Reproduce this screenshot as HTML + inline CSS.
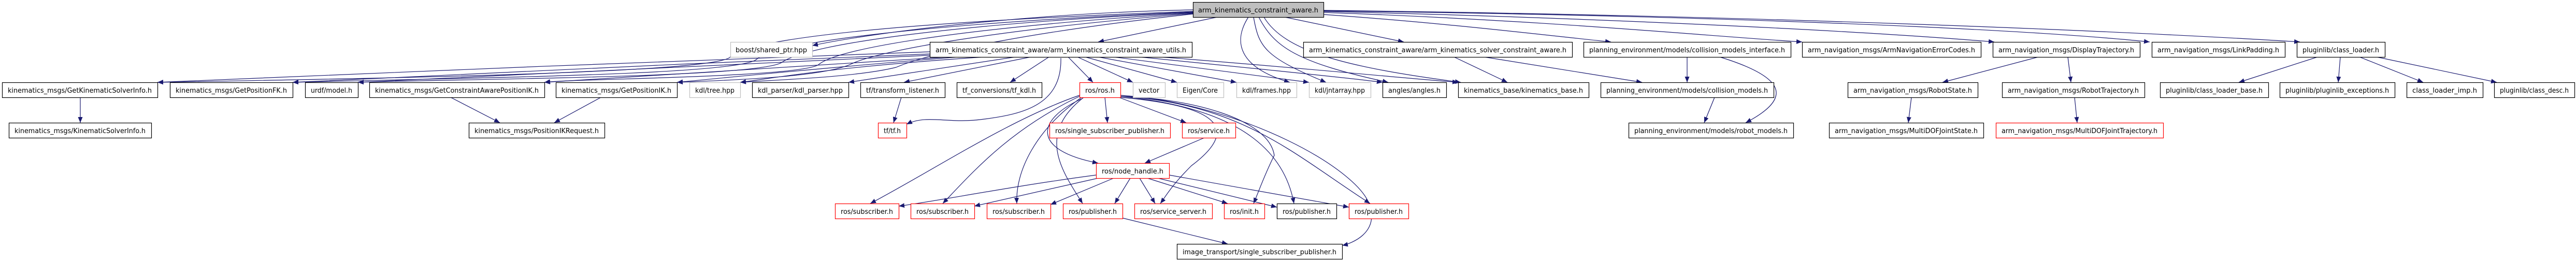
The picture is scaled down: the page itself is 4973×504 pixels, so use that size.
<!DOCTYPE html>
<html><head><meta charset="utf-8"><style>
html,body{margin:0;padding:0;background:#fff;}
svg{display:block}
text{font-family:"DejaVu Sans","Liberation Sans",sans-serif;font-size:13px;fill:#000}
.e{fill:none;stroke:#191970;stroke-width:1.2}
.b{fill:#fff;stroke:#000;stroke-width:1.2}
.g{fill:#fff;stroke:#bfbfbf;stroke-width:1.2}
.r{fill:#fff;stroke:#ff0000;stroke-width:1.2}
</style></head><body>
<svg width="4973" height="504" viewBox="0 0 4973 504" xmlns="http://www.w3.org/2000/svg">
<defs><marker id="a" markerUnits="userSpaceOnUse" markerWidth="12" markerHeight="9" refX="11" refY="4.5" orient="auto"><path d="M0,0 L11,4.5 L0,9 z" fill="#191970"/></marker></defs>
<g marker-end="url(#a)">
<!-- from top node -->
<path class="e" d="M2303,19 C2000,25 1700,60 1568,88"/>
<path class="e" d="M2350,33 L2120,81"/>
<path class="e" d="M2480,33 L2710,81"/>
<path class="e" d="M2555,28 C2800,45 3000,70 3110,81"/>
<path class="e" d="M2555,24 C3000,40 3300,70 3479,81"/>
<path class="e" d="M2555,22 C3100,35 3600,60 3850,81"/>
<path class="e" d="M2555,21 C3300,30 3900,55 4150,81"/>
<path class="e" d="M2555,20 C3400,30 4100,60 4440,81"/>
<path class="e" d="M2303,22 C1800,40 1450,70 1410,110 C1380,140 800,150 304,159"/>
<path class="e" d="M2303,23 C1800,45 1500,80 1460,115 C1420,145 900,150 565,159"/>
<path class="e" d="M2303,24 C1850,45 1560,85 1510,120 C1470,150 900,152 691,159"/>
<path class="e" d="M2303,25 C1900,50 1620,90 1580,125 C1540,150 1100,152 1051,159"/>
<path class="e" d="M2303,26 C1950,55 1700,95 1640,125 C1580,150 1400,155 1307,159"/>
<path class="e" d="M2303,27 C2000,60 1800,100 1730,130 C1650,150 1480,155 1429,159"/>
<path class="e" d="M2410,33 C2380,80 2390,130 2490,159"/>
<path class="e" d="M2420,33 C2430,90 2440,110 2560,159"/>
<path class="e" d="M2430,33 C2460,90 2500,120 2680,159"/>
<path class="e" d="M2440,33 C2480,100 2600,130 2820,159"/>
<!-- from utils -->
<path class="e" d="M1795,100 C1400,115 700,140 304,159"/>
<path class="e" d="M1800,104 C1400,120 800,145 565,159"/>
<path class="e" d="M1810,106 C1400,125 900,150 691,159"/>
<path class="e" d="M1830,110 C1500,130 1200,150 1051,159"/>
<path class="e" d="M1850,110 C1600,130 1400,150 1307,159"/>
<path class="e" d="M1900,110 C1600,130 1500,150 1429,159"/>
<path class="e" d="M1960,110 L1638,159"/>
<path class="e" d="M1990,110 L1745,159"/>
<path class="e" d="M2025,110 L1950,159"/>
<path class="e" d="M2062,110 L2110,159"/>
<path class="e" d="M2080,110 L2187,159"/>
<path class="e" d="M2095,110 L2272,159"/>
<path class="e" d="M2120,110 L2387,159"/>
<path class="e" d="M2150,110 L2527,159"/>
<path class="e" d="M2200,110 C2400,130 2600,150 2669,159"/>
<path class="e" d="M2240,110 C2500,130 2700,150 2815,159"/>
<path class="e" d="M2048,112 C2050,200 1980,220 1900,230 C1830,240 1790,220 1750,240"/>
<path class="e" d="M1740,188 L1725,237"/>
<!-- from ros.h -->
<path class="e" d="M2133,188 L2138,237"/>
<path class="e" d="M2160,188 L2290,237"/>
<path class="e" d="M2090,190 C2000,230 1990,290 2120,315"/>
<path class="e" d="M2325,266 L2210,315"/>
<path class="e" d="M2084,184 C1950,230 1800,330 1680,393"/>
<path class="e" d="M2084,186 C1950,250 1880,330 1820,393"/>
<path class="e" d="M2088,188 C2000,250 1960,330 1963,393"/>
<path class="e" d="M2092,188 C2000,260 2050,330 2090,393"/>
<path class="e" d="M2163,188 C2300,200 2420,230 2300,320 C2260,360 2250,380 2240,393"/>
<path class="e" d="M2163,186 C2300,190 2450,230 2460,300 C2440,340 2430,370 2420,393"/>
<path class="e" d="M2163,186 C2300,200 2470,240 2498,393"/>
<path class="e" d="M2163,186 C2400,200 2500,300 2645,393"/>
<path class="e" d="M2163,184 C2400,200 2630,330 2645,400 C2660,450 2610,470 2591,474"/>
<!-- node_handle -->
<path class="e" d="M2116,338 C1950,360 1800,390 1735,398"/>
<path class="e" d="M2120,344 L1881,398"/>
<path class="e" d="M2150,344 L2028,395"/>
<path class="e" d="M2182,344 L2152,393"/>
<path class="e" d="M2200,344 L2230,393"/>
<path class="e" d="M2215,344 L2370,393"/>
<path class="e" d="M2235,344 L2465,400"/>
<path class="e" d="M2257,338 L2604,400"/>
<path class="e" d="M2167,421 L2370,471"/>
<!-- others -->
<path class="e" d="M155,188 L155,237"/>
<path class="e" d="M870,188 L965,237"/>
<path class="e" d="M1160,188 L1070,237"/>
<path class="e" d="M2807,110 L2910,159"/>
<path class="e" d="M2865,110 L3170,159"/>
<path class="e" d="M3257,110 L3257,159"/>
<path class="e" d="M3310,188 L3290,237"/>
<path class="e" d="M3320,110 C3450,150 3460,190 3370,237"/>
<path class="e" d="M3935,110 L3750,159"/>
<path class="e" d="M3992,110 L3998,159"/>
<path class="e" d="M3690,188 L3684,237"/>
<path class="e" d="M4005,188 L4010,237"/>
<path class="e" d="M4474,110 L4322,159"/>
<path class="e" d="M4518,110 L4514,159"/>
<path class="e" d="M4555,110 L4678,159"/>
<path class="e" d="M4588,110 L4820,159"/>
</g>
<!-- nodes -->
<rect x="2303.5" y="4.5" width="252" height="29" fill="#bfbfbf" stroke="#000" stroke-width="1.2"/><text x="2313" y="24" textLength="232" lengthAdjust="spacingAndGlyphs">arm_kinematics_constraint_aware.h</text>

<rect class="g" x="1410.5" y="81.5" width="158" height="29"/><text x="1420" y="101" textLength="138" lengthAdjust="spacingAndGlyphs">boost/shared_ptr.hpp</text>
<rect class="b" x="1795.5" y="81.5" width="506" height="29"/><text x="1806" y="101" textLength="484" lengthAdjust="spacingAndGlyphs">arm_kinematics_constraint_aware/arm_kinematics_constraint_aware_utils.h</text>
<rect class="b" x="2516.5" y="81.5" width="519" height="29"/><text x="2527" y="101" textLength="497" lengthAdjust="spacingAndGlyphs">arm_kinematics_constraint_aware/arm_kinematics_solver_constraint_aware.h</text>
<rect class="b" x="3057.5" y="81.5" width="400" height="29"/><text x="3068" y="101" textLength="378" lengthAdjust="spacingAndGlyphs">planning_environment/models/collision_models_interface.h</text>
<rect class="b" x="3479.5" y="81.5" width="345" height="29"/><text x="3490" y="101" textLength="323" lengthAdjust="spacingAndGlyphs">arm_navigation_msgs/ArmNavigationErrorCodes.h</text>
<rect class="b" x="3847.5" y="81.5" width="284" height="29"/><text x="3858" y="101" textLength="262" lengthAdjust="spacingAndGlyphs">arm_navigation_msgs/DisplayTrajectory.h</text>
<rect class="b" x="4154.5" y="81.5" width="257" height="29"/><text x="4165" y="101" textLength="235" lengthAdjust="spacingAndGlyphs">arm_navigation_msgs/LinkPadding.h</text>
<rect class="b" x="4434.5" y="81.5" width="170" height="29"/><text x="4445" y="101" textLength="148" lengthAdjust="spacingAndGlyphs">pluginlib/class_loader.h</text>

<rect class="b" x="4.5" y="159.5" width="300" height="29"/><text x="15" y="179" textLength="278" lengthAdjust="spacingAndGlyphs">kinematics_msgs/GetKinematicSolverInfo.h</text>
<rect class="b" x="328.5" y="159.5" width="237" height="29"/><text x="339" y="179" textLength="215" lengthAdjust="spacingAndGlyphs">kinematics_msgs/GetPositionFK.h</text>
<rect class="b" x="589.5" y="159.5" width="102" height="29"/><text x="600" y="179" textLength="80" lengthAdjust="spacingAndGlyphs">urdf/model.h</text>
<rect class="b" x="713.5" y="159.5" width="338" height="29"/><text x="724" y="179" textLength="316" lengthAdjust="spacingAndGlyphs">kinematics_msgs/GetConstraintAwarePositionIK.h</text>
<rect class="b" x="1073.5" y="159.5" width="234" height="29"/><text x="1084" y="179" textLength="212" lengthAdjust="spacingAndGlyphs">kinematics_msgs/GetPositionIK.h</text>
<rect class="g" x="1331.5" y="159.5" width="98" height="29"/><text x="1342" y="179" textLength="76" lengthAdjust="spacingAndGlyphs">kdl/tree.hpp</text>
<rect class="b" x="1452.5" y="159.5" width="186" height="29"/><text x="1463" y="179" textLength="164" lengthAdjust="spacingAndGlyphs">kdl_parser/kdl_parser.hpp</text>
<rect class="b" x="1661.5" y="159.5" width="163" height="29"/><text x="1672" y="179" textLength="141" lengthAdjust="spacingAndGlyphs">tf/transform_listener.h</text>
<rect class="b" x="1847.5" y="159.5" width="164" height="29"/><text x="1858" y="179" textLength="142" lengthAdjust="spacingAndGlyphs">tf_conversions/tf_kdl.h</text>
<rect class="r" x="2084.5" y="159.5" width="79" height="29"/><text x="2095" y="179" textLength="57" lengthAdjust="spacingAndGlyphs">ros/ros.h</text>
<rect class="g" x="2187.5" y="159.5" width="62" height="29"/><text x="2198" y="179" textLength="40" lengthAdjust="spacingAndGlyphs">vector</text>
<rect class="g" x="2272.5" y="159.5" width="90" height="29"/><text x="2283" y="179" textLength="68" lengthAdjust="spacingAndGlyphs">Eigen/Core</text>
<rect class="g" x="2387.5" y="159.5" width="116" height="29"/><text x="2398" y="179" textLength="94" lengthAdjust="spacingAndGlyphs">kdl/frames.hpp</text>
<rect class="g" x="2527.5" y="159.5" width="119" height="29"/><text x="2538" y="179" textLength="97" lengthAdjust="spacingAndGlyphs">kdl/jntarray.hpp</text>
<rect class="b" x="2669.5" y="159.5" width="123" height="29"/><text x="2680" y="179" textLength="101" lengthAdjust="spacingAndGlyphs">angles/angles.h</text>
<rect class="b" x="2815.5" y="159.5" width="252" height="29"/><text x="2826" y="179" textLength="230" lengthAdjust="spacingAndGlyphs">kinematics_base/kinematics_base.h</text>
<rect class="b" x="3090.5" y="159.5" width="334" height="29"/><text x="3101" y="179" textLength="312" lengthAdjust="spacingAndGlyphs">planning_environment/models/collision_models.h</text>
<rect class="b" x="3567.5" y="159.5" width="251" height="29"/><text x="3578" y="179" textLength="229" lengthAdjust="spacingAndGlyphs">arm_navigation_msgs/RobotState.h</text>
<rect class="b" x="3865.5" y="159.5" width="275" height="29"/><text x="3876" y="179" textLength="253" lengthAdjust="spacingAndGlyphs">arm_navigation_msgs/RobotTrajectory.h</text>
<rect class="b" x="4170.5" y="159.5" width="209" height="29"/><text x="4181" y="179" textLength="187" lengthAdjust="spacingAndGlyphs">pluginlib/class_loader_base.h</text>
<rect class="b" x="4401.5" y="159.5" width="222" height="29"/><text x="4412" y="179" textLength="200" lengthAdjust="spacingAndGlyphs">pluginlib/pluginlib_exceptions.h</text>
<rect class="b" x="4646.5" y="159.5" width="147" height="29"/><text x="4657" y="179" textLength="125" lengthAdjust="spacingAndGlyphs">class_loader_imp.h</text>
<rect class="b" x="4815.5" y="159.5" width="155" height="29"/><text x="4826" y="179" textLength="133" lengthAdjust="spacingAndGlyphs">pluginlib/class_desc.h</text>

<rect class="b" x="17.5" y="237.5" width="275" height="29"/><text x="28" y="257" textLength="253" lengthAdjust="spacingAndGlyphs">kinematics_msgs/KinematicSolverInfo.h</text>
<rect class="b" x="905.5" y="237.5" width="262" height="29"/><text x="916" y="257" textLength="240" lengthAdjust="spacingAndGlyphs">kinematics_msgs/PositionIKRequest.h</text>
<rect class="r" x="1695.5" y="237.5" width="55" height="29"/><text x="1706" y="257" textLength="33" lengthAdjust="spacingAndGlyphs">tf/tf.h</text>
<rect class="r" x="2026.5" y="237.5" width="233" height="29"/><text x="2037" y="257" textLength="211" lengthAdjust="spacingAndGlyphs">ros/single_subscriber_publisher.h</text>
<rect class="r" x="2282.5" y="237.5" width="103" height="29"/><text x="2293" y="257" textLength="81" lengthAdjust="spacingAndGlyphs">ros/service.h</text>
<rect class="b" x="3144.5" y="237.5" width="318" height="29"/><text x="3155" y="257" textLength="296" lengthAdjust="spacingAndGlyphs">planning_environment/models/robot_models.h</text>
<rect class="b" x="3531.5" y="237.5" width="298" height="29"/><text x="3542" y="257" textLength="276" lengthAdjust="spacingAndGlyphs">arm_navigation_msgs/MultiDOFJointState.h</text>
<rect class="r" x="3853.5" y="237.5" width="323" height="29"/><text x="3864" y="257" textLength="301" lengthAdjust="spacingAndGlyphs">arm_navigation_msgs/MultiDOFJointTrajectory.h</text>

<rect class="r" x="2116.5" y="315.5" width="141" height="29"/><text x="2127" y="335" textLength="119" lengthAdjust="spacingAndGlyphs">ros/node_handle.h</text>

<rect class="r" x="1612.5" y="393.5" width="123" height="29"/><text x="1623" y="413" textLength="101" lengthAdjust="spacingAndGlyphs">ros/subscriber.h</text>
<rect class="r" x="1758.5" y="393.5" width="123" height="29"/><text x="1769" y="413" textLength="101" lengthAdjust="spacingAndGlyphs">ros/subscriber.h</text>
<rect class="r" x="1905.5" y="393.5" width="123" height="29"/><text x="1916" y="413" textLength="101" lengthAdjust="spacingAndGlyphs">ros/subscriber.h</text>
<rect class="r" x="2052.5" y="393.5" width="115" height="29"/><text x="2063" y="413" textLength="93" lengthAdjust="spacingAndGlyphs">ros/publisher.h</text>
<rect class="r" x="2190.5" y="393.5" width="150" height="29"/><text x="2201" y="413" textLength="128" lengthAdjust="spacingAndGlyphs">ros/service_server.h</text>
<rect class="r" x="2363.5" y="393.5" width="78" height="29"/><text x="2374" y="413" textLength="56" lengthAdjust="spacingAndGlyphs">ros/init.h</text>
<rect class="b" x="2465.5" y="393.5" width="115" height="29"/><text x="2476" y="413" textLength="93" lengthAdjust="spacingAndGlyphs">ros/publisher.h</text>
<rect class="r" x="2604.5" y="393.5" width="115" height="29"/><text x="2615" y="413" textLength="93" lengthAdjust="spacingAndGlyphs">ros/publisher.h</text>

<rect class="b" x="2272.5" y="471.5" width="319" height="29"/><text x="2283" y="491" textLength="297" lengthAdjust="spacingAndGlyphs">image_transport/single_subscriber_publisher.h</text>
</svg>
</body></html>
